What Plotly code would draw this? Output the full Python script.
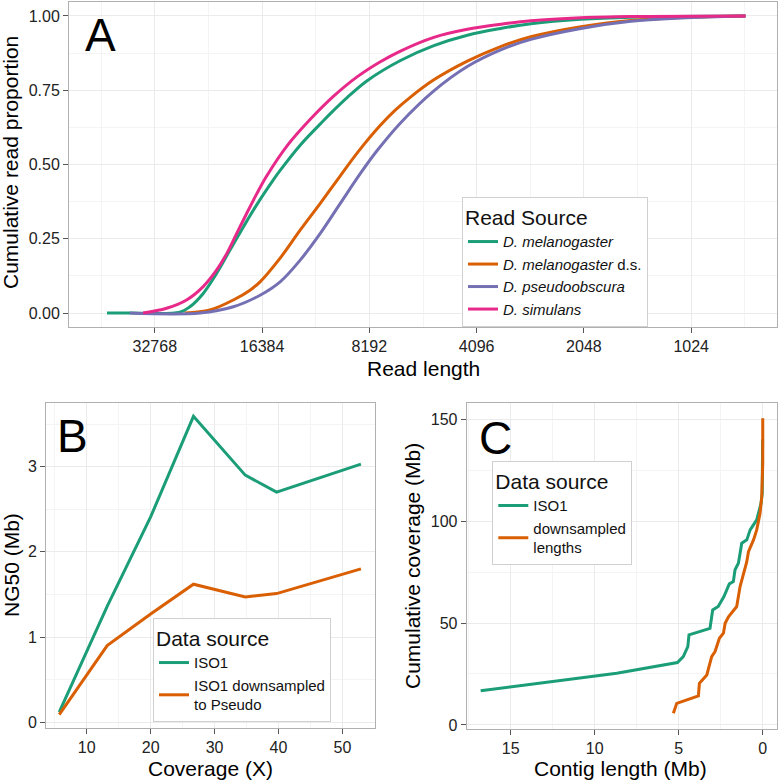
import math
import plotly.graph_objects as go

# ---------------- Data ----------------
# Panel A: cumulative read proportion vs read length
mel_len = [44630, 38530, 27870, 26120, 23970, 21970, 20160, 18490, 16950, 15220, 14580, 12810, 11010, 10320, 9460, 8310, 6700, 5400, 4350, 3507, 2886, 2088, 1511, 721]
mel_cdf = [0.0, 0.0, 0.003, 0.021, 0.066, 0.134, 0.212, 0.290, 0.365, 0.449, 0.480, 0.565, 0.648, 0.682, 0.725, 0.782, 0.850, 0.900, 0.935, 0.958, 0.974, 0.989, 0.996, 1.0]

melds_len = [26980, 22950, 19730, 17710, 16600, 14580, 12810, 11250, 9885, 8780, 7630, 6930, 6280, 5400, 4350, 3507, 2886, 2088, 1511, 1093, 721]
melds_cdf = [0.0, 0.010, 0.044, 0.077, 0.105, 0.185, 0.279, 0.369, 0.462, 0.545, 0.632, 0.683, 0.727, 0.785, 0.848, 0.897, 0.930, 0.964, 0.985, 0.995, 1.0]

pse_len = [38530, 24480, 19730, 16600, 14580, 12810, 11250, 9885, 8680, 7790, 6700, 5400, 4350, 3507, 2886, 2088, 1511, 1093, 721]
pse_cdf = [0.0, 0.0, 0.021, 0.060, 0.105, 0.178, 0.268, 0.369, 0.470, 0.547, 0.640, 0.748, 0.830, 0.886, 0.921, 0.958, 0.982, 0.993, 1.0]

sim_len = [35340, 30380, 26690, 23970, 21970, 20590, 19300, 18090, 16950, 15890, 13960, 12000, 10320, 8870, 7630, 6700, 5400, 4350, 3507, 2886, 2088, 1511, 721]
sim_cdf = [0.0, 0.016, 0.044, 0.089, 0.145, 0.200, 0.268, 0.336, 0.402, 0.462, 0.562, 0.652, 0.730, 0.795, 0.846, 0.882, 0.928, 0.955, 0.972, 0.984, 0.994, 0.998, 1.0]

read_ticks = [32768, 16384, 8192, 4096, 2048, 1024]

# Panel B: NG50 vs coverage
cov_x = [5.7, 13.2, 20.0, 26.7, 34.8, 39.7, 52.9]
ng50_iso1 = [0.12, 1.36, 2.41, 3.59, 2.90, 2.70, 3.03]
ng50_ds = [0.09, 0.90, 1.27, 1.62, 1.47, 1.51, 1.80]

# Panel C: cumulative coverage vs contig length
iso1_len = [16.79, 8.69, 5.08, 4.73, 4.46, 4.39, 3.14, 2.98, 2.65, 2.31, 1.99, 1.75, 1.65, 1.45, 1.25, 0.95, 0.75, 0.36, 0.10, 0.03, 0.01]
iso1_cum = [16.8, 25.4, 30.6, 33.5, 38.4, 44.2, 47.4, 56.4, 58.1, 63.0, 69.2, 70.3, 76.1, 79.3, 89.2, 90.8, 95.7, 100.6, 108.8, 113.7, 140.0]
ds_len = [5.32, 5.12, 3.83, 3.77, 3.33, 3.04, 2.84, 2.58, 2.34, 2.24, 2.04, 1.55, 1.35, 1.15, 0.95, 0.85, 0.55, 0.36, 0.16, 0.06, 0.0, 0.0]
ds_cum = [5.7, 10.6, 14.2, 20.4, 24.5, 33.5, 36.0, 42.5, 45.0, 49.9, 53.1, 58.1, 67.9, 74.4, 80.1, 85.0, 90.8, 95.7, 103.9, 112.0, 128.4, 150.5]

# ---------------- Style ----------------
GREEN, ORANGE, PURPLE, PINK = "#1B9E77", "#D95F02", "#7570B3", "#E7298A"
FONT = "Liberation Sans, Arial, sans-serif"
W, H = 778, 782
GRID = "#EBEBEB"
MINOR = "#F4F4F4"
BORDER = "#B0B0B0"
LW = 3

def px_x(p):
    return p / W

def px_y(p):
    return 1 - p / H

fig = go.Figure()

def line(x, y, name, color, xa, ya, legend, shape="linear"):
    fig.add_trace(go.Scatter(x=x, y=y, mode="lines", name=name,
                             line=dict(color=color, width=LW, shape=shape, smoothing=1.0),
                             xaxis=xa, yaxis=ya, legend=legend))

line(mel_len, mel_cdf, "<i>D. melanogaster</i>", GREEN, "x", "y", "legend", "spline")
line(melds_len, melds_cdf, "<i>D. melanogaster</i> d.s.", ORANGE, "x", "y", "legend", "spline")
line(pse_len, pse_cdf, "<i>D. pseudoobscura</i>", PURPLE, "x", "y", "legend", "spline")
line(sim_len, sim_cdf, "<i>D. simulans</i>", PINK, "x", "y", "legend", "spline")

line(cov_x, ng50_iso1, "ISO1", GREEN, "x2", "y2", "legend2")
line(cov_x, ng50_ds, "ISO1 downsampled<br>to Pseudo", ORANGE, "x2", "y2", "legend2")

line(iso1_len, iso1_cum, "ISO1", GREEN, "x3", "y3", "legend3")
line(ds_len, ds_cum, "downsampled<br>lengths", ORANGE, "x3", "y3", "legend3")

tickfont = dict(family=FONT, size=16, color="#222222")

def axis_common(**kw):
    d = dict(showgrid=True, gridcolor=GRID, gridwidth=1, zeroline=False,
             showline=True, linecolor=BORDER, linewidth=1, mirror=True,
             ticks="outside", ticklen=5, tickcolor="#555555", tickwidth=1,
             tickfont=tickfont, autorange=False, automargin=False)
    d.update(kw)
    return d

lo, hi = 15.8, 9.2
minorA = [2 ** (k + 0.5) for k in range(9, 16)]
fig.update_layout(
    width=W, height=H, margin=dict(l=0, r=0, t=0, b=0, autoexpand=False),
    paper_bgcolor="white", plot_bgcolor="white",
    font=dict(family=FONT, color="#111111"),
    xaxis=axis_common(domain=[px_x(69), px_x(777)], anchor="y", type="log",
                      range=[lo * math.log10(2), hi * math.log10(2)],
                      tickvals=read_ticks, ticktext=[str(v) for v in read_ticks],
                      minor=dict(tickvals=minorA, showgrid=True, gridcolor=MINOR, ticks="")),
    yaxis=axis_common(domain=[px_y(327), px_y(2)], anchor="x", range=[-0.047, 1.047],
                      tickvals=[0, 0.25, 0.5, 0.75, 1.0],
                      ticktext=["0.00", "0.25", "0.50", "0.75", "1.00"],
                      minor=dict(tickvals=[0.125, 0.375, 0.625, 0.875], showgrid=True, gridcolor=MINOR, ticks="")),
    xaxis2=axis_common(domain=[px_x(46), px_x(375)], anchor="y2", range=[3.63, 55.1],
                       tickvals=[10, 20, 30, 40, 50],
                       minor=dict(tickvals=[5, 15, 25, 35, 45, 55], showgrid=True, gridcolor=MINOR, ticks="")),
    yaxis2=axis_common(domain=[px_y(728), px_y(402.7)], anchor="x2", range=[-0.067, 3.75],
                       tickvals=[0, 1, 2, 3],
                       minor=dict(tickvals=[0.5, 1.5, 2.5, 3.5], showgrid=True, gridcolor=MINOR, ticks="")),
    xaxis3=axis_common(domain=[px_x(466.7), px_x(776.7)], anchor="y3", range=[17.62, -0.83],
                       tickvals=[0, 5, 10, 15],
                       minor=dict(tickvals=[2.5, 7.5, 12.5, 17.5], showgrid=True, gridcolor=MINOR, ticks="")),
    yaxis3=axis_common(domain=[px_y(729), px_y(402.7)], anchor="x3", range=[-2.0, 158.1],
                       tickvals=[0, 50, 100, 150],
                       minor=dict(tickvals=[25, 75, 125], showgrid=True, gridcolor=MINOR, ticks="")),
)

leg_common = dict(bgcolor="white", bordercolor="#D0D0D0", borderwidth=1,
                  font=dict(family=FONT, size=15, color="#111111"),
                  xanchor="left", yanchor="top", tracegroupgap=0, itemwidth=30)
fig.update_layout(
    legend=dict(x=px_x(462), y=px_y(197),
                title=dict(text="Read Source", font=dict(family=FONT, size=21)), **leg_common),
    legend2=dict(x=px_x(153), y=px_y(618),
                 title=dict(text="Data source", font=dict(family=FONT, size=21)), **leg_common),
    legend3=dict(x=px_x(492.3), y=px_y(461),
                 title=dict(text="Data source", font=dict(family=FONT, size=21)), **leg_common),
)

def ann(text, x, y, size, angle=0):
    fig.add_annotation(text=text, x=px_x(x), y=px_y(y), xref="paper", yref="paper",
                       showarrow=False, textangle=angle,
                       font=dict(family=FONT, size=size, color="#000000"),
                       xanchor="center", yanchor="middle")

# panel letters
ann("A", 100, 35, 46)
ann("B", 72, 436, 46)
ann("C", 495, 438, 46)
# axis titles
ann("Cumulative read proportion", 11, 163, 21, -90)
ann("Read length", 423, 368, 21)
ann("NG50 (Mb)", 11, 565, 21, -90)
ann("Coverage (X)", 210, 768, 21)
ann("Cumulative coverage (Mb)", 412, 566, 21, -90)
ann("Contig length (Mb)", 620, 768, 21)

fig.write_html("out.html", config={"displayModeBar": False},
               post_script="document.body.style.margin='0px';document.body.style.overflow='hidden';")
